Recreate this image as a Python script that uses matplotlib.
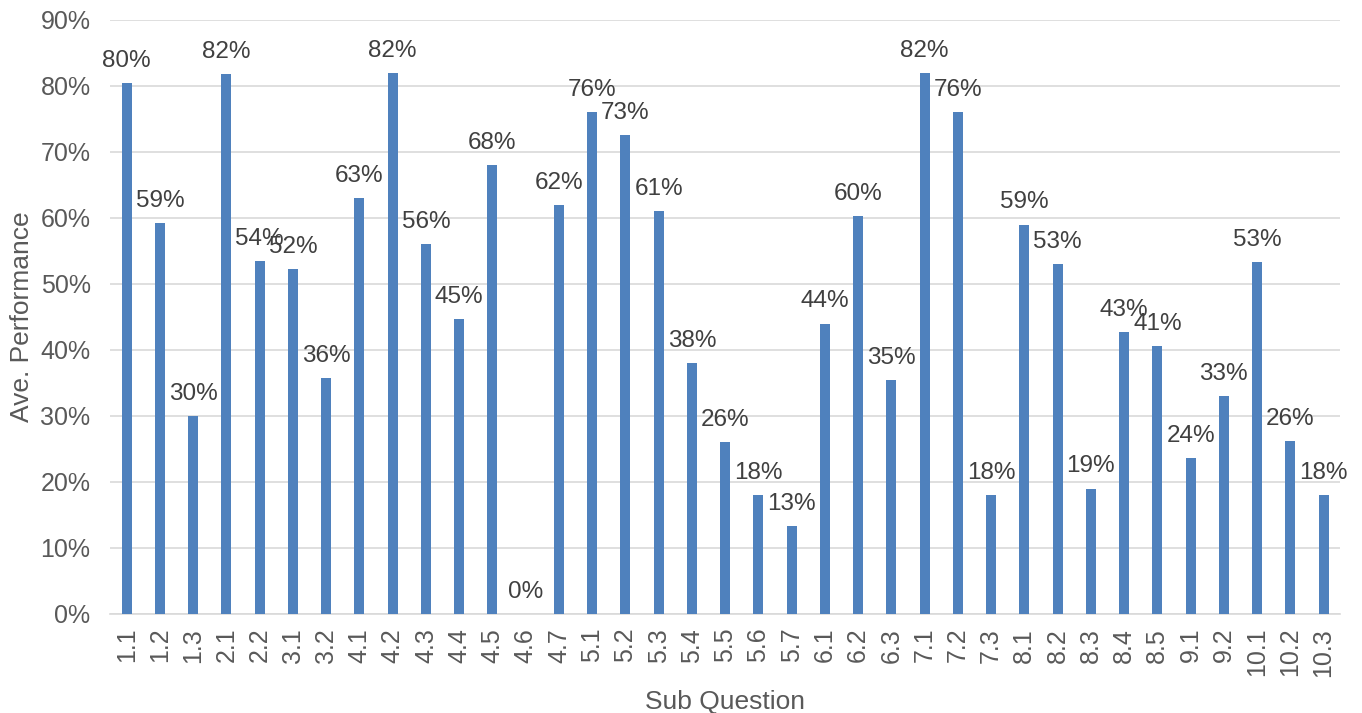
import matplotlib
matplotlib.use("Agg")
import matplotlib.pyplot as plt
from matplotlib.ticker import PercentFormatter, MultipleLocator

categories = ["1.1","1.2","1.3","2.1","2.2","3.1","3.2","4.1","4.2","4.3","4.4","4.5","4.6","4.7",
              "5.1","5.2","5.3","5.4","5.5","5.6","5.7","6.1","6.2","6.3","7.1","7.2","7.3",
              "8.1","8.2","8.3","8.4","8.5","9.1","9.2","10.1","10.2","10.3"]
values = [80.4, 59.2, 30.0, 81.8, 53.5, 52.3, 35.8, 63.0, 82.0, 56.0, 44.7, 68.0, 0.0, 62.0,
          76.0, 72.6, 61.0, 38.0, 26.0, 18.0, 13.3, 44.0, 60.3, 35.4, 82.0, 76.0, 18.0,
          59.0, 53.0, 19.0, 42.7, 40.6, 23.6, 33.0, 53.3, 26.2, 18.0]

plt.rcParams['font.family'] = ['Liberation Sans', 'DejaVu Sans']

fig = plt.figure(figsize=(13.62, 7.13), dpi=100)
ax = fig.add_axes([0.0808, 0.1389, 0.9032, 0.8331])

x = list(range(len(categories)))
ax.bar(x, values, width=0.3, color='#4F81BD', zorder=3)
for xi, v in zip(x, values):
    ax.annotate(f"{v:.0f}%", (xi, v), xytext=(0, 8), textcoords='offset points',
                ha='center', va='bottom', fontsize=17.5, color='#404040', zorder=4)

ax.set_xlim(-0.5, len(categories) - 0.5)
ax.set_ylim(0, 90)
ax.yaxis.set_major_locator(MultipleLocator(10))
ax.yaxis.set_major_formatter(PercentFormatter(decimals=0))
ax.set_xticks(x)
ax.set_xticklabels(categories, rotation=90)
ax.tick_params(axis='both', length=0, labelsize=18, labelcolor='#595959')
ax.tick_params(axis='x', pad=10)
ax.tick_params(axis='y', pad=14)
ax.grid(axis='y', color='#D9D9D9', linewidth=1.2, zorder=0)
for s in ['top', 'right', 'left']:
    ax.spines[s].set_visible(False)
ax.spines['bottom'].set_color('#D9D9D9')
ax.spines['bottom'].set_linewidth(1.2)

ax.set_ylabel("Ave. Performance", fontsize=19, color='#595959', labelpad=5)
ax.set_xlabel("Sub Question", fontsize=19, color='#595959', labelpad=10)

fig.savefig("out.png", dpi=100)
